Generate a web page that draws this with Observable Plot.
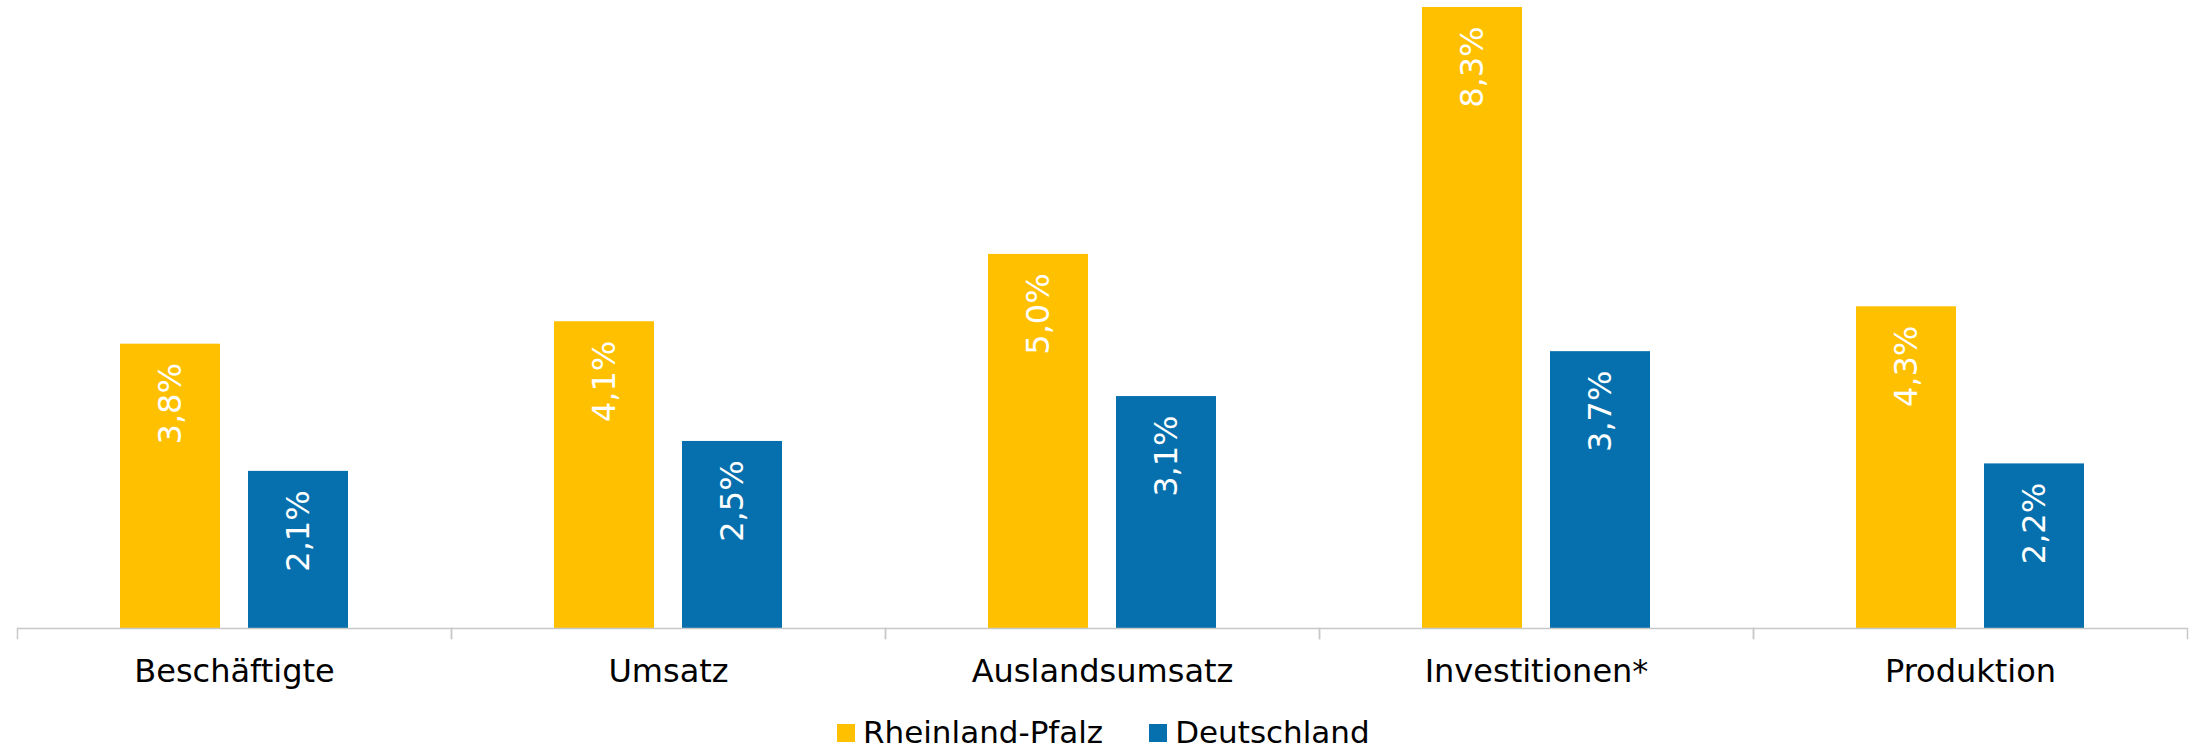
<!DOCTYPE html>
<html>
<head>
<meta charset="utf-8">
<script src="https://cdn.jsdelivr.net/npm/d3@7"></script>
<script src="https://cdn.jsdelivr.net/npm/@observablehq/plot@0.6"></script>
<style>
  html, body { margin: 0; padding: 0; background: white; }
  #wrap { position: relative; width: 2201px; height: 753px; overflow: hidden; }
  .legend { position: absolute; left: 837px; top: 717px;
    font: 31px "DejaVu Sans"; line-height: 31px; display: flex; align-items: center; white-space: nowrap; color: #000; }
  .legend .sw { display: inline-block; width: 18px; height: 18px; margin-right: 8px; }
  .legend .item { display: flex; align-items: center; margin-right: 46px; }
</style>
</head>
<body>
<div id="wrap"><div id="chart"></div><div class="legend" id="legend"></div></div>
<script>
const categories = ["Beschäftigte", "Umsatz", "Auslandsumsatz", "Investitionen*", "Produktion"];
const series = ["Rheinland-Pfalz", "Deutschland"];
const rpValues = [3.8, 4.1, 5.0, 8.3, 4.3];
const deValues = [2.1, 2.5, 3.1, 3.7, 2.2];
const colors = ["#FFC000", "#0570AD"];

const data = categories.flatMap((c, i) => [
  {category: c, series: series[0], value: rpValues[i]},
  {category: c, series: series[1], value: deValues[i]}
]);

const axisGray = "#c8c8c8";
const chart = Plot.plot({
  width: 2201, height: 705,
  marginLeft: 16, marginRight: 13, marginTop: 7, marginBottom: 77,
  style: {fontFamily: "DejaVu Sans", fontSize: "32px", background: "white", color: "black"},
  fx: {domain: categories, padding: 0, label: null},
  x: {domain: series, paddingInner: 0.217, paddingOuter: 0.792, axis: null},
  y: {domain: [0, 8.3], axis: null},
  color: {domain: series, range: colors},
  marks: [
    Plot.barY(data, {fx: "category", x: "series", y: "value", fill: "series"}),
    Plot.text(data, {fx: "category", x: "series", y: "value",
      text: d => d.value.toFixed(1).replace(".", ",") + "%",
      rotate: -90, textAnchor: "end", lineAnchor: "middle", dy: 19,
      fill: "white", fontSize: 32}),
    Plot.ruleY([0], {stroke: axisGray, strokeWidth: 1.5}),
    Plot.frame({anchor: "left", insetTop: 621, insetBottom: -10, stroke: axisGray, strokeWidth: 1.5}),
    Plot.frame({anchor: "right", insetTop: 621, insetBottom: -10, stroke: axisGray, strokeWidth: 1.5}),
    Plot.axisFx({anchor: "bottom", tickSize: 0, tickPadding: 31, fontSize: 32, label: null})
  ]
});
document.getElementById("chart").appendChild(chart);

const legend = document.getElementById("legend");
series.forEach((s, i) => {
  const item = document.createElement("span");
  item.className = "item";
  const sw = document.createElement("span");
  sw.className = "sw";
  sw.style.background = colors[i];
  item.appendChild(sw);
  item.appendChild(document.createTextNode(s));
  legend.appendChild(item);
});
</script>
</body>
</html>
